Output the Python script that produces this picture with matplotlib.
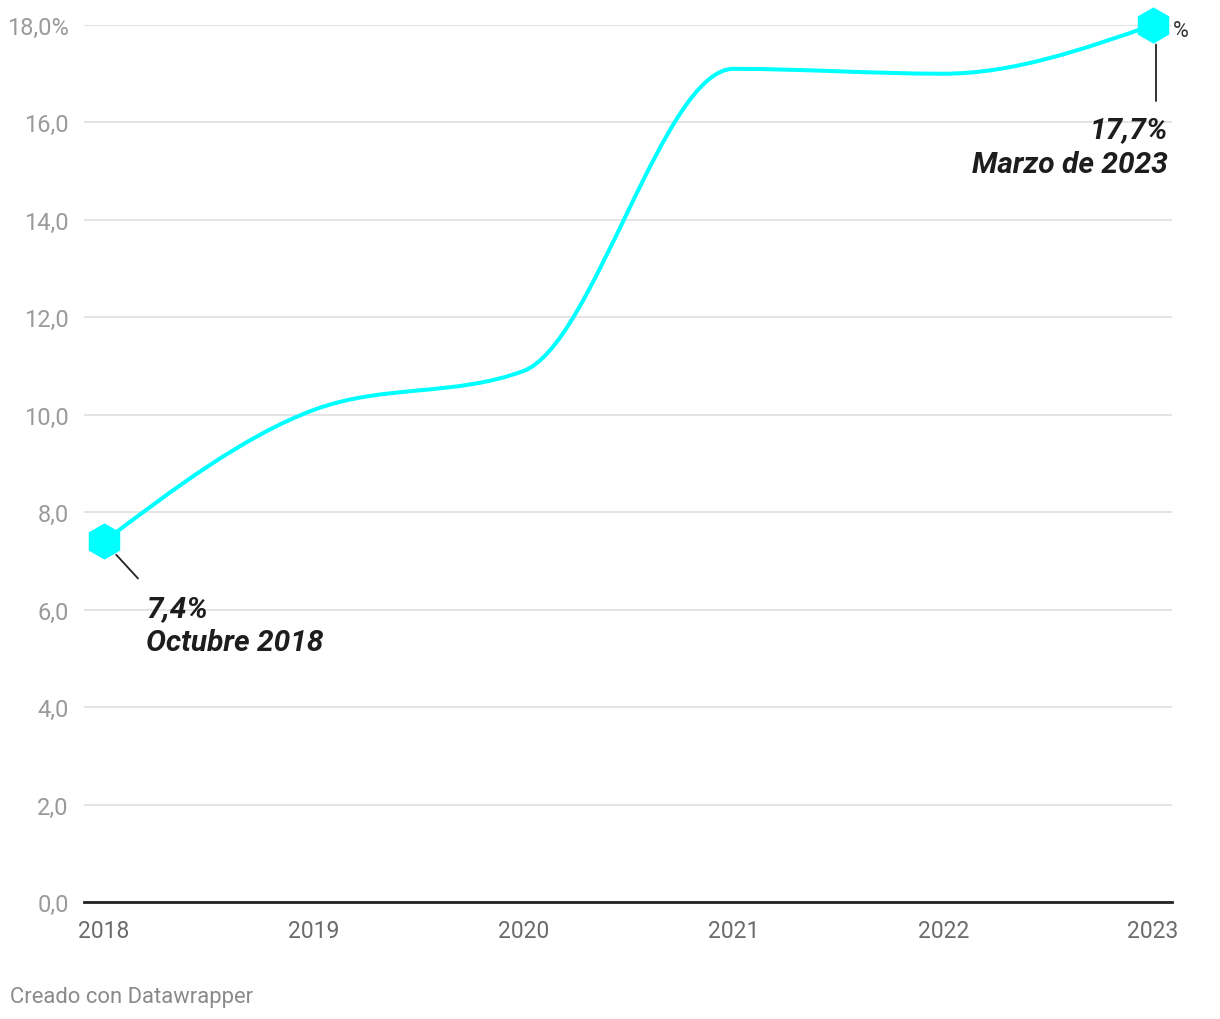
import matplotlib
matplotlib.use("Agg")
import matplotlib.pyplot as plt
from matplotlib.path import Path
from matplotlib.patches import PathPatch
import numpy as np

# datos
anios = [2018, 2019, 2020, 2021, 2022, 2023]
valores = [7.4, 10.1, 10.9, 17.1, 17.0, 18.0]
yticks = [0, 2, 4, 6, 8, 10, 12, 14, 16, 18]
etiquetas_y = ["0,0", "2,0", "4,0", "6,0", "8,0", "10,0", "12,0", "14,0", "16,0", "18,0%"]
nota_ini = ["7,4%", "Octubre 2018"]
nota_fin = ["17,7%", "Marzo de 2023"]

CIAN = "#00ffff"
PX_X = 209.8   # pixeles por anio
PX_Y = 48.72   # pixeles por punto


def pendientes(x, y):
    # tangentes tipo curva monotona (como d3.curveMonotoneX)
    n = len(x)
    t = np.zeros(n)
    for i in range(1, n - 1):
        h0 = x[i] - x[i - 1]
        h1 = x[i + 1] - x[i]
        s0 = (y[i] - y[i - 1]) / h0
        s1 = (y[i + 1] - y[i]) / h1
        p = (s0 * h1 + s1 * h0) / (h0 + h1)
        t[i] = (np.sign(s0) + np.sign(s1)) * min(abs(s0), abs(s1), 0.5 * abs(p))
    h = x[1] - x[0]
    t[0] = (3 * (y[1] - y[0]) / h - t[1]) / 2
    h = x[-1] - x[-2]
    t[-1] = (3 * (y[-1] - y[-2]) / h - t[-2]) / 2
    return t


def camino_suave(x, y):
    t = pendientes(x, y)
    verts = [(x[0], y[0])]
    codes = [Path.MOVETO]
    for i in range(len(x) - 1):
        dx = (x[i + 1] - x[i]) / 3.0
        verts += [(x[i] + dx, y[i] + dx * t[i]),
                  (x[i + 1] - dx, y[i + 1] - dx * t[i + 1]),
                  (x[i + 1], y[i + 1])]
        codes += [Path.CURVE4] * 3
    return Path(verts, codes)


plt.rcParams['font.family'] = ['Roboto', 'DejaVu Sans']

fig = plt.figure(figsize=(12.2, 10.2), dpi=100)
ax = fig.add_axes([84 / 1220, 117 / 1020, 1088 / 1220, 877 / 1020])

x = np.array(anios, dtype=float)
y = np.array(valores, dtype=float)
linea = PathPatch(camino_suave(x, y), facecolor="none", edgecolor=CIAN, lw=2.9,
                  capstyle="round", joinstyle="round", zorder=3, clip_on=False)
ax.add_patch(linea)

# marcadores de inicio y fin
ax.plot([x[0], x[-1]], [y[0], y[-1]], linestyle="none", marker="h", ms=25,
        color=CIAN, mec=CIAN, zorder=4, clip_on=False)

ax.set_xlim(2018 - 20 / PX_X, 2023 + 19 / PX_X)
ax.set_ylim(0, 18)

ax.set_yticks(yticks)
ax.set_yticklabels(etiquetas_y)
ax.set_xticks(anios)
ax.set_xticklabels([str(a) for a in anios])
ax.tick_params(axis="y", length=0, pad=11, labelsize=17, labelcolor="#9a9a9a")
ax.tick_params(axis="x", length=0, pad=12, labelsize=16.5, labelcolor="#6b6b6b")

ax.grid(axis="y", color="#e2e2e2", lw=1.3)
ax.set_axisbelow(True)
for s in ["top", "right", "left"]:
    ax.spines[s].set_visible(False)
ax.spines["bottom"].set_color("#222222")
ax.spines["bottom"].set_linewidth(2)
ax.spines["bottom"].set_zorder(2)

estilo = dict(fontsize=21.5, fontweight="bold", fontstyle="italic", color="#1d1d1d",
              va="baseline")

# lineas guia y anotaciones
ax.annotate("", xy=(x[0], y[0]), xytext=(2018 + 34 / PX_X, y[0] - 37 / PX_Y),
            arrowprops=dict(arrowstyle="-", color="#222222", lw=1.3, shrinkA=0, shrinkB=13))
ax.text(2018 + 42 / PX_X, (903 - 617) / PX_Y, nota_ini[0], ha="left", **estilo)
ax.text(2018 + 42 / PX_X, (903 - 651) / PX_Y, nota_ini[1], ha="left", **estilo)

ax.annotate("", xy=(x[-1] + 3 / PX_X, y[-1]), xytext=(x[-1] + 3 / PX_X, y[-1] - 76 / PX_Y),
            arrowprops=dict(arrowstyle="-", color="#222222", lw=1.3, shrinkA=0, shrinkB=14))
ax.text(x[-1] + 15 / PX_X, (903 - 138) / PX_Y, nota_fin[0], ha="right", **estilo)
ax.text(x[-1] + 15 / PX_X, (903 - 173) / PX_Y, nota_fin[1], ha="right", **estilo)

ax.text(x[-1] + 20 / PX_X, y[-1] - 5 / PX_Y, "%", fontsize=15.5, color="#333333",
        ha="left", va="center")

fig.text(10 / 1220, 1 - 1003 / 1020, "Creado con Datawrapper", fontsize=15.8,
         color="#8a8a8a", ha="left", va="baseline")

fig.savefig("out.png", dpi=100)
